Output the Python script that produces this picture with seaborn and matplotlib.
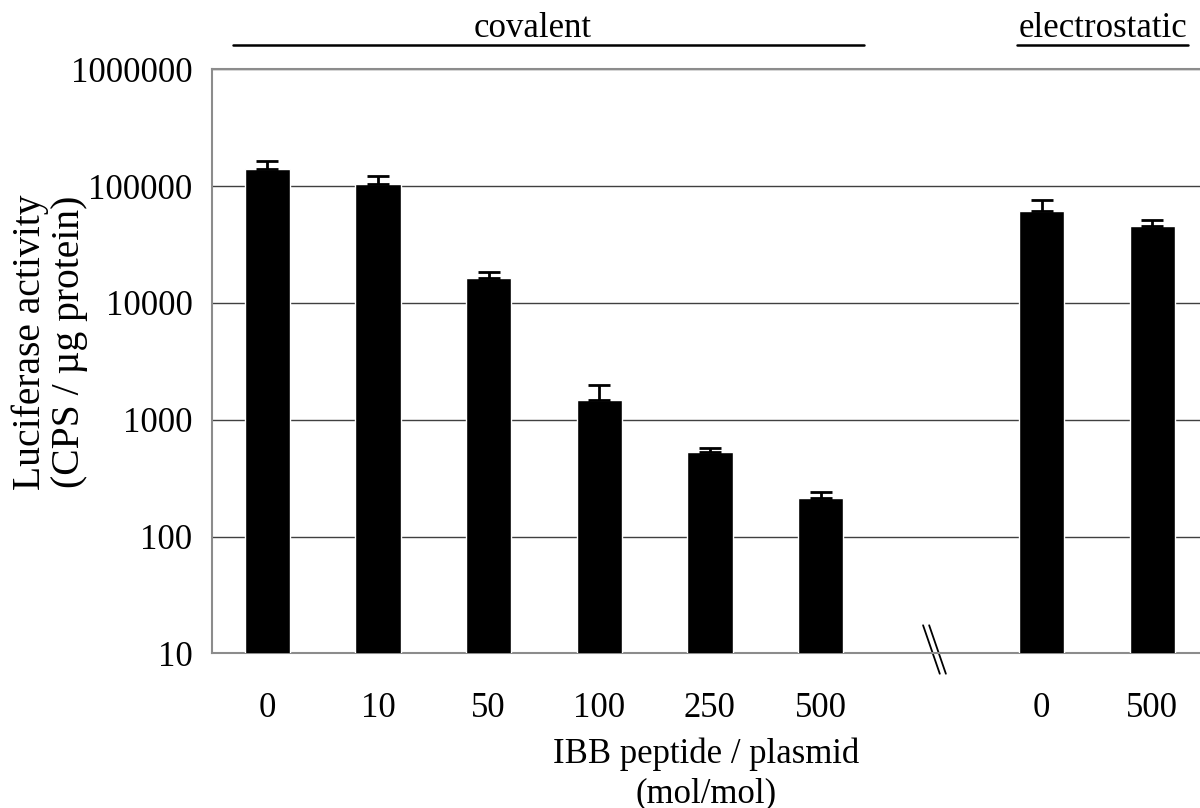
import numpy as np
import pandas as pd
import matplotlib
matplotlib.use("Agg")
import matplotlib.pyplot as plt
import matplotlib.transforms as mtransforms
from matplotlib.ticker import FixedLocator, NullLocator
import seaborn as sns

# data (luciferase activity, CPS / ug protein)
ratio_labels = ["0", "10", "50", "100", "250", "500", "0", "500"]
groups = ["covalent"] * 6 + ["electrostatic"] * 2
activity = [139000, 103500, 16400, 1475, 526, 214, 61500, 45800]
err_up = [26000, 19000, 2000, 500, 43, 26, 14500, 5500]
y_ticks = [10, 100, 1000, 10000, 100000, 1000000]

df = pd.DataFrame({"group": groups, "ratio": ratio_labels,
                   "activity": activity, "err": err_up})
df["key"] = df["group"] + " " + df["ratio"]
# blank slot between the two groups (axis break)
order = list(df["key"][:6]) + ["gap"] + list(df["key"][6:])
tick_text = ratio_labels[:6] + [""] + ratio_labels[6:]

sns.set_style("white")
plt.rcParams["font.family"] = ["Liberation Serif", "DejaVu Serif"]
plt.rcParams["font.size"] = 25
plt.rcParams["text.color"] = "black"
plt.rcParams["axes.labelcolor"] = "black"
plt.rcParams["xtick.color"] = "black"
plt.rcParams["ytick.color"] = "black"

fig = plt.figure(figsize=(12, 8.08), dpi=100)
ax = fig.add_axes([212 / 1200, 1 - 653.3 / 808, 1 - 212 / 1200, (653.3 - 69.3) / 808])

sns.barplot(data=df, x="key", y="activity", order=order, color="black",
            saturation=1, width=0.41, errorbar=None, ax=ax, zorder=3)

xpos = [order.index(k) for k in df["key"]]
ax.errorbar(xpos, df["activity"], yerr=[np.zeros(len(df)), df["err"]],
            fmt="none", ecolor="black", elinewidth=2, capsize=8, capthick=2, zorder=4)

ax.set_yscale("log")
ax.set_ylim(10, 1000000)
ax.yaxis.set_major_locator(FixedLocator(y_ticks))
ax.yaxis.set_minor_locator(NullLocator())
ax.set_yticklabels([str(t) for t in y_ticks])
ax.set_xlim(-0.5, 8.43)
ax.set_xticks(range(len(order)))
ax.set_xticklabels(tick_text)

ax.yaxis.grid(True, color="#404040", linewidth=1)
ax.set_axisbelow(True)
for side in ["left", "bottom", "top"]:
    ax.spines[side].set_color("#8c8c8c")
    ax.spines[side].set_linewidth(1.5)
ax.spines["right"].set_visible(False)
ax.tick_params(axis="y", length=0, pad=14, labelsize=25)
ax.tick_params(axis="x", length=0, pad=28, labelsize=25)

ax.set_xlabel("IBB peptide / plasmid\n(mol/mol)", fontsize=25, labelpad=9,
              linespacing=1.25)
ax.set_ylabel("Luciferase activity\n(CPS / µg protein)", fontsize=28.5,
              linespacing=1.08, va="center", ha="center")
ax.yaxis.set_label_coords(-0.164, 0.533)

# group headers above the plot
trans = mtransforms.blended_transform_factory(ax.transData, ax.transAxes)
ax.plot([-0.31, 5.39], [1.042, 1.042], color="black", lw=1.8,
        transform=trans, clip_on=False)
ax.text(2.4, 1.0553, "covalent", ha="center", va="baseline", fontsize=25,
        transform=trans)
ax.plot([6.78, 8.32], [1.041, 1.041], color="black", lw=1.8,
        transform=trans, clip_on=False)
ax.text(7.55, 1.0553, "electrostatic", ha="center", va="baseline", fontsize=25,
        transform=trans)

# axis break mark
for dx in [0.0, 0.055]:
    ax.plot([5.927 + dx, 6.078 + dx], [0.048, -0.035], color="black", lw=1.3,
            transform=trans, clip_on=False)

fig.savefig("out.png", dpi=100)
